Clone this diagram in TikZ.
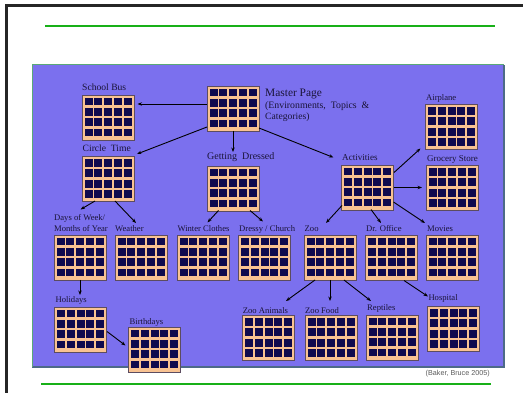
\documentclass[tikz,border=0pt]{standalone}
\usepackage{fontspec}
\setmainfont{Liberation Serif}
\newfontfamily\citefont{Liberation Sans}
\usetikzlibrary{arrows.meta,calc}
\definecolor{bgpurple}{HTML}{7B70EE}
\definecolor{peach}{HTML}{F8C292}
\definecolor{cellnavy}{HTML}{0E0A4E}
\definecolor{framegray}{HTML}{5C4C60}
\definecolor{rulegreen}{HTML}{18B018}
\definecolor{edgegreen}{HTML}{5AA878}
\definecolor{edgeslate}{HTML}{4D6A88}
\definecolor{labeltext}{HTML}{1A1438}
\tikzset{
  icon/.style={draw=framegray, line width=0.7pt, fill=peach,
    minimum width=52pt, minimum height=45pt, inner sep=0pt,
    path picture={
      \foreach \c in {0,...,4}{\foreach \r in {0,...,3}{
        \fill[cellnavy] ([shift={(2.7pt+\c*9.7pt,-2.6pt-\r*10.4pt)}]path picture bounding box.north west)
          rectangle ++(8.0pt,-7.7pt);}}}},
  lbl/.style={anchor=base west, inner sep=0pt, text=labeltext, font=\fontsize{8.6}{10}\selectfont},
  lblm/.style={lbl, font=\fontsize{9.6}{11}\selectfont},
  arr/.style={-{Stealth[length=4.5pt,width=3.4pt]}, line width=0.9pt, black},
}
\begin{document}
\begin{tikzpicture}[x=1pt,y=-1pt]
\useasboundingbox (0,0) rectangle (523,393);
% page frame
\draw[line width=2.6pt, black!85, line cap=rect] (6.5,395) -- (6.5,5.8) -- (525,5.8);
\draw[rulegreen, line width=1.3pt] (45,26) -- (495,26);
\draw[rulegreen, line width=1.4pt] (41,384) -- (491,384);
% panel
\fill[bgpurple] (32,65) rectangle (504,367);
\draw[edgeslate, line width=1.2pt] (32,367) -- (504,367) -- (504,65);
\draw[edgegreen, line width=1pt] (32,367) -- (32,65) -- (504,65);
\node[anchor=base west, inner sep=0pt, text=black!65, font=\citefont\fontsize{7.2}{8}\selectfont] (cite) at (425.5,375) {(Baker, Bruce 2005)};
% icons
\node[icon] (master) at (233,108.5) {};
\node[icon] (bus) at (108,117.5) {};
\node[icon] (circle) at (108,179) {};
\node[icon] (dressed) at (233,188.5) {};
\node[icon] (activities) at (367.5,187.5) {};
\node[icon] (airplane) at (451.5,127) {};
\node[icon] (grocery) at (452,188) {};
\node[icon] (days) at (80,257.5) {};
\node[icon] (weather) at (141,257.5) {};
\node[icon] (winter) at (203,257.5) {};
\node[icon] (dressy) at (264.5,257.5) {};
\node[icon] (zoo) at (330,257.5) {};
\node[icon] (droffice) at (391.5,257.5) {};
\node[icon] (movies) at (452,257.5) {};
\node[icon] (holidays) at (80.5,329.5) {};
\node[icon] (birthdays) at (154.5,349.5) {};
\node[icon] (zooanimals) at (268.5,338) {};
\node[icon] (zoofood) at (331,338) {};
\node[icon] (reptiles) at (392,337.5) {};
\node[icon] (hospital) at (453.5,329) {};
% labels
\node[lbl, font=\fontsize{11.4}{13}\selectfont] (lmaster) at (265,97) {Master Page};
\node[lbl, font=\fontsize{9.8}{11}\selectfont] (lmaster2) at (265,109) {(Environments,\ \ Topics\ \ \&};
\node[lbl, font=\fontsize{9.6}{11}\selectfont] (lmaster3) at (265,120) {Categories)};
\node[lblm] (lbus) at (82,91) {School Bus};
\node[lblm] (lcircle) at (82.5,152) {Circle\ \ Time};
\node[lblm, font=\fontsize{10}{11}\selectfont] (ldressed) at (207,160) {Getting\ \ Dressed};
\node[lbl, font=\fontsize{9.1}{11}\selectfont] (lactivities) at (342,161) {Activities};
\node[lbl] (lairplane) at (426,101) {Airplane};
\node[lbl, font=\fontsize{9}{11}\selectfont] (lgrocery) at (427,162) {Grocery Store};
\node[lbl] (ldays) at (54,221) {Days of Week/};
\node[lbl] (lmonths) at (54,232) {Months of Year};
\node[lbl] (lweather) at (115,232) {Weather};
\node[lbl] (lwinter) at (177.3,232) {Winter Clothes};
\node[lbl] (ldressy) at (239,232) {Dressy / Church};
\node[lbl] (lzoo) at (304.5,232) {Zoo};
\node[lbl] (ldroffice) at (366,232) {Dr. Office};
\node[lbl] (lmovies) at (427,232) {Movies};
\node[lbl] (lholidays) at (55.5,303) {Holidays};
\node[lbl] (lbirthdays) at (129.5,324) {Birthdays};
\node[lbl] (lzooanimals) at (242.7,313) {Zoo Animals};
\node[lbl] (lzoofood) at (305,313) {Zoo Food};
\node[lbl] (lreptiles) at (367,310.5) {Reptiles};
\node[lbl] (lhospital) at (428.3,301) {Hospital};
% connectors
\draw[arr] ($(master)+(-26,-4.5)$) -- ($(bus)+(29.5,-13.5)$);
\draw[arr] ($(master)+(-26,18.5)$) -- ($(circle)+(29,-25)$);
\draw[arr] ($(master)+(0,22.5)$) -- ($(dressed)+(0,-36.5)$);
\draw[arr] ($(master)+(26,19.5)$) -- ($(activities)+(-34,-30)$);
\draw[arr] ($(activities)+(26.5,-15)$) -- ($(airplane)+(-31,21.5)$);
\draw[arr] ($(activities)+(26.5,0)$) -- ($(grocery)+(-30,-0.5)$);
\draw[arr] ($(activities)+(-25.5,18)$) -- ($(zoo)+(-4,-34.5)$);
\draw[arr] ($(activities)+(3.5,22)$) -- ($(droffice)+(-10.5,-34.5)$);
\draw[arr] ($(activities)+(26,14.5)$) -- ($(movies)+(-27,-34.5)$);
\draw[arr] ($(circle)+(-13,22)$) -- ($(days)+(0.5,-48)$);
\draw[arr] ($(circle)+(7,22)$) -- ($(weather)+(-5,-34.5)$);
\draw[arr] ($(dressed)+(-14.5,22)$) -- ($(winter)+(4.5,-35)$);
\draw[arr] ($(dressed)+(17,22)$) -- ($(dressy)+(-1.5,-36)$);
\draw[arr] ($(days)+(0,22.5)$) -- ($(holidays)+(-0.5,-34.5)$);
\draw[arr] ($(holidays)+(26.5,2)$) -- ($(birthdays)+(-29,-4)$);
\draw[arr] ($(zoo)+(-15,22.5)$) -- ($(zooanimals)+(17.5,-37)$);
\draw[arr] ($(zoo)+(0,22.5)$) -- ($(zoofood)+(-1,-37)$);
\draw[arr] ($(zoo)+(14,22.5)$) -- ($(reptiles)+(-21,-36.5)$);
\draw[arr] ($(droffice)+(12.5,23)$) -- ($(hospital)+(-25.5,-32.5)$);
\end{tikzpicture}
\end{document}
